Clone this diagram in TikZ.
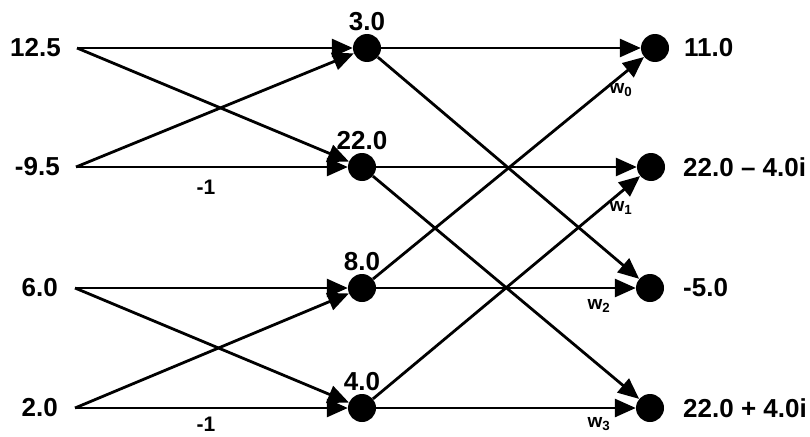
\documentclass[tikz,border=0pt]{standalone}
\usepackage{fontspec}
\setmainfont{Liberation Sans}
\usepackage{tikz}
\usetikzlibrary{arrows.meta}

\begin{document}
\begin{tikzpicture}[x=1pt, y=-1pt,
    dot/.style={circle, fill, minimum size=28pt, inner sep=0pt},
    val/.style={font=\bfseries\fontsize{26}{30}\selectfont, inner sep=1pt},
    wt/.style={font=\bfseries\fontsize{19}{21}\selectfont, inner sep=1pt},
    flow/.style={line width=2.8pt, -{Triangle[length=21pt, width=18pt]}}]
    \useasboundingbox (0,0) rectangle (810,436);

    % inputs
    \node[val, anchor=east] (x0) at (62,48) {12.5};
    \node[val, anchor=east] (x1) at (61,167) {-9.5};
    \node[val, anchor=east] (x2) at (59,288) {6.0};
    \node[val, anchor=east] (x3) at (59,408) {2.0};
    \coordinate (s0) at (77,48);
    \coordinate (s1) at (76,167);
    \coordinate (s2) at (75,288);
    \coordinate (s3) at (75,408);

    % first stage
    \node[dot] (m0) at (367,48) {};
    \node[dot] (m1) at (362,167) {};
    \node[dot] (m2) at (362,288) {};
    \node[dot] (m3) at (362,408) {};
    \node[val, above=2pt] (v0) at (m0.north) {3.0};
    \node[val, above=2pt] (v1) at (m1.north) {22.0};
    \node[val, above=2pt] (v2) at (m2.north) {8.0};
    \node[val, above=2pt] (v3) at (m3.north) {4.0};

    % outputs
    \node[dot] (o0) at (655,48) {};
    \node[dot] (o1) at (651,167) {};
    \node[dot] (o2) at (650,288) {};
    \node[dot] (o3) at (650,408) {};
    \node[val, anchor=west] (y0) at (683,48) {11.0};
    \node[val, anchor=west] (y1) at (682,167) {22.0 – 4.0i};
    \node[val, anchor=west] (y2) at (682,288) {-5.0};
    \node[val, anchor=west] (y3) at (682,408) {22.0 + 4.0i};

    \draw[flow] (s0) -- (m0);
    \draw[flow] (s0) -- (m1);
    \draw[flow] (s1) -- (m0);
    \draw[flow] (s1) -- (m1);
    \draw[flow] (s2) -- (m2);
    \draw[flow] (s2) -- (m3);
    \draw[flow] (s3) -- (m2);
    \draw[flow] (s3) -- (m3);
    \node[wt, font=\bfseries\fontsize{21}{22}\selectfont] (n1) at (206,187) {-1};
    \node[wt, font=\bfseries\fontsize{21}{22}\selectfont] (n3) at (206,424) {-1};

    % second stage
    \draw[flow] (m0) -- (o0);
    \draw[flow] (m0) -- (o2);
    \draw[flow] (m1) -- (o1);
    \draw[flow] (m1) -- (o3);
    \draw[flow] (m2) -- (o0);
    \draw[flow] (m2) -- (o2);
    \draw[flow] (m3) -- (o1);
    \draw[flow] (m3) -- (o3);
    \node[wt] (w0) at (621,90) {w\textsubscript{0}};
    \node[wt] (w1) at (621,208) {w\textsubscript{1}};
    \node[wt] (w2) at (599,306) {w\textsubscript{2}};
    \node[wt] (w3) at (599,424) {w\textsubscript{3}};
\end{tikzpicture}
\end{document}
